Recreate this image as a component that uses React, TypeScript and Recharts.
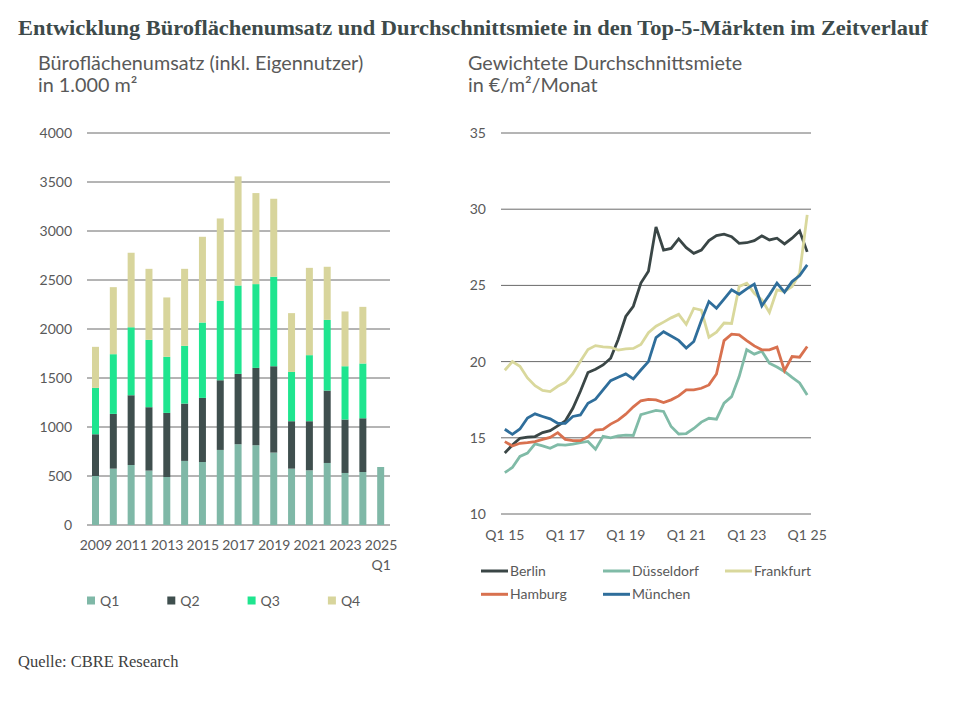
import React from "react";
import { BarChart, Bar, LineChart, Line, XAxis, YAxis, CartesianGrid } from "recharts";

const years = ["2009","2010","2011","2012","2013","2014","2015","2016","2017","2018","2019","2020","2021","2022","2023","2024","2025 Q1"];
const q1 = [500,575,613,555,490,654,643,766,824,814,739,575,558,633,531,541,592];
const q2 = [426,559,711,647,654,585,654,711,718,789,881,484,501,739,545,548,null];
const q3 = [473,609,695,687,572,589,769,810,902,855,913,503,674,721,544,559,null];
const q4 = [419,684,759,725,606,786,875,841,1113,929,796,600,891,542,559,578,null];
const barTicks = [0,500,1000,1500,2000,2500,3000,3500,4000];

const quarters = [
  "Q1 15","Q2 15","Q3 15","Q4 15","Q1 16","Q2 16","Q3 16","Q4 16",
  "Q1 17","Q2 17","Q3 17","Q4 17","Q1 18","Q2 18","Q3 18","Q4 18",
  "Q1 19","Q2 19","Q3 19","Q4 19","Q1 20","Q2 20","Q3 20","Q4 20",
  "Q1 21","Q2 21","Q3 21","Q4 21","Q1 22","Q2 22","Q3 22","Q4 22",
  "Q1 23","Q2 23","Q3 23","Q4 23","Q1 24","Q2 24","Q3 24","Q4 24",
  "Q1 25"
];
const berlin = [14.0,14.53,14.97,15.04,15.08,15.34,15.47,15.78,16.1,16.94,18.05,19.28,19.5,19.78,20.22,21.45,22.96,23.63,25.15,25.93,28.84,27.32,27.43,28.05,27.48,27.1,27.32,27.94,28.27,28.36,28.2,27.76,27.8,27.94,28.25,27.98,28.1,27.72,28.1,28.57,27.2];
const duesseldorf = [12.72,13.05,13.78,14.0,14.6,14.47,14.31,14.55,14.52,14.58,14.69,14.76,14.25,15.1,15.0,15.13,15.18,15.15,16.52,16.66,16.8,16.73,15.74,15.25,15.28,15.61,16.03,16.28,16.22,17.27,17.7,19.02,20.78,20.49,20.68,19.9,19.64,19.35,18.96,18.6,17.81];
const frankfurt = [19.43,20.0,19.69,18.93,18.42,18.11,18.03,18.38,18.64,19.21,20.02,20.79,21.05,20.96,20.94,20.75,20.83,20.86,21.12,21.89,22.32,22.59,22.87,23.1,22.45,23.5,23.38,21.6,21.93,22.53,22.5,24.93,25.15,24.49,24.05,23.22,24.7,24.6,24.93,25.8,29.63];
const hamburg = [14.75,14.46,14.64,14.68,14.75,14.9,15.03,15.34,14.9,14.81,14.81,15.07,15.51,15.55,15.9,16.16,16.55,17.03,17.43,17.52,17.49,17.31,17.49,17.75,18.14,18.14,18.25,18.47,19.19,21.38,21.8,21.76,21.38,21.03,20.77,20.77,20.95,19.41,20.33,20.29,20.99];
const muenchen = [15.56,15.23,15.58,16.3,16.57,16.4,16.24,15.95,15.95,16.4,16.5,17.27,17.53,18.14,18.75,18.97,19.19,18.86,19.45,20.0,21.58,21.96,21.68,21.39,20.89,21.32,22.7,23.94,23.5,24.1,24.71,24.42,24.77,25.08,23.66,24.38,25.15,24.56,25.25,25.65,26.35];
const lineTicks = [10,15,20,25,30,35];

const barSeries = [
  { key: "Q1", color: "#7fb8a7" },
  { key: "Q2", color: "#3f4f4e" },
  { key: "Q3", color: "#1fe58f" },
  { key: "Q4", color: "#d8d59c" },
];
const lineSeries = [
  { key: "Berlin", color: "#3a4646", values: berlin },
  { key: "Düsseldorf", color: "#80bba7", values: duesseldorf },
  { key: "Frankfurt", color: "#d9d89c", values: frankfurt },
  { key: "Hamburg", color: "#d8714f", values: hamburg },
  { key: "München", color: "#2f6e9b", values: muenchen },
];

const barData = years.map((y, i) => ({ year: y, Q1: q1[i], Q2: q2[i], Q3: q3[i], Q4: q4[i] }));
const lineData = quarters.map((q, i) => {
  const row: any = { q };
  lineSeries.forEach((s) => { row[s.key] = s.values[i]; });
  return row;
});

const FONT = "Lato, 'Open Sans', sans-serif";
const TXT = "#595959";
const GRID = "#6a6a6a";

const YearTick = (props: any) => {
  const { x, y, payload } = props;
  const parts = String(payload.value).split(" ");
  return (
    <text x={x} y={y} textAnchor="middle" fill={TXT} fontSize={14} fontFamily={FONT}>
      {parts.map((p, k) => (
        <tspan key={k} x={x} dy={k === 0 ? "0.71em" : "1.43em"}>{p}</tspan>
      ))}
    </text>
  );
};

export default function App() {
  return (
    <div style={{ position: "absolute", left: 0, top: 0, width: 955, height: 706, background: "#fff", overflow: "hidden" }}>
      <svg width={955} height={706} style={{ position: "absolute", left: 0, top: 0 }}>
        <text x={18} y={35} fontFamily="'Liberation Serif', 'Times New Roman', serif" fontWeight="bold" fontSize={21} fill="#3d4a4a" textLength={910} lengthAdjust="spacingAndGlyphs">
          Entwicklung Büroflächenumsatz und Durchschnittsmiete in den Top-5-Märkten im Zeitverlauf
        </text>
        <text x={38} y={69.5} fontFamily={FONT} fontSize={19.8} fill={TXT}>Büroflächenumsatz (inkl. Eigennutzer)</text>
        <text x={38} y={92} fontFamily={FONT} fontSize={19.8} fill={TXT}>in 1.000 m²</text>
        <text x={468} y={69.5} fontFamily={FONT} fontSize={19.8} fill={TXT}>Gewichtete Durchschnittsmiete</text>
        <text x={468} y={92} fontFamily={FONT} fontSize={19.8} fill={TXT}>in €/m²/Monat</text>
        <text x={18} y={666.5} fontFamily="'Liberation Serif', 'Times New Roman', serif" fontSize={16.5} fill="#404040">Quelle: CBRE Research</text>
        {barSeries.map((s, i) => (
          <g key={s.key}>
            <rect x={87 + i * 80.3} y={596.5} width={8} height={8} fill={s.color} />
            <text x={100 + i * 80.3} y={605.5} fontFamily={FONT} fontSize={14} fill={TXT}>{s.key}</text>
          </g>
        ))}
        {lineSeries.map((s, i) => {
          const col = i % 3;
          const row = Math.floor(i / 3);
          const lx = 481 + col * 122;
          const ly = 571 + row * 23.3;
          return (
            <g key={s.key}>
              <line x1={lx} x2={lx + 27} y1={ly} y2={ly} stroke={s.color} strokeWidth={3} />
              <text x={lx + 29} y={ly + 5} fontFamily={FONT} fontSize={14} fill={TXT}>{s.key}</text>
            </g>
          );
        })}
      </svg>

      <div style={{ position: "absolute", left: 0, top: 0 }}>
        <BarChart width={420} height={580} data={barData} margin={{ top: 133, right: 30, bottom: 25, left: 27 }} barSize={7}>
          <CartesianGrid vertical={false} stroke={GRID} strokeWidth={1} />
          <XAxis dataKey="year" interval={1} axisLine={false} tickLine={false} tickSize={0} tickMargin={15} height={30} tick={<YearTick />} />
          <YAxis domain={[0, 4000]} ticks={barTicks} width={60} axisLine={false} tickLine={false} tickSize={0} tickMargin={15}
            tick={{ fill: TXT, fontSize: 14, fontFamily: FONT }} />
          {barSeries.map((s) => (
            <Bar key={s.key} dataKey={s.key} stackId="a" fill={s.color} isAnimationActive={false} />
          ))}
        </BarChart>
      </div>

      <div style={{ position: "absolute", left: 430, top: 0 }}>
        <LineChart width={430} height={580} data={lineData} margin={{ top: 133, right: 49, bottom: 36, left: 11 }}>
          <CartesianGrid vertical={false} stroke={GRID} strokeWidth={1} />
          <XAxis dataKey="q" interval={7} axisLine={false} tickLine={false} tickSize={0} tickMargin={16} height={30}
            padding={{ left: 3.8, right: 3.8 }} tick={{ fill: TXT, fontSize: 14, fontFamily: FONT }} />
          <YAxis domain={[10, 35]} ticks={lineTicks} width={60} axisLine={false} tickLine={false} tickSize={0} tickMargin={15}
            tick={{ fill: TXT, fontSize: 14, fontFamily: FONT }} />
          {lineSeries.map((s) => (
            <Line key={s.key} dataKey={s.key} stroke={s.color} strokeWidth={2.8} dot={false} type="linear" isAnimationActive={false} />
          ))}
        </LineChart>
      </div>
    </div>
  );
}
